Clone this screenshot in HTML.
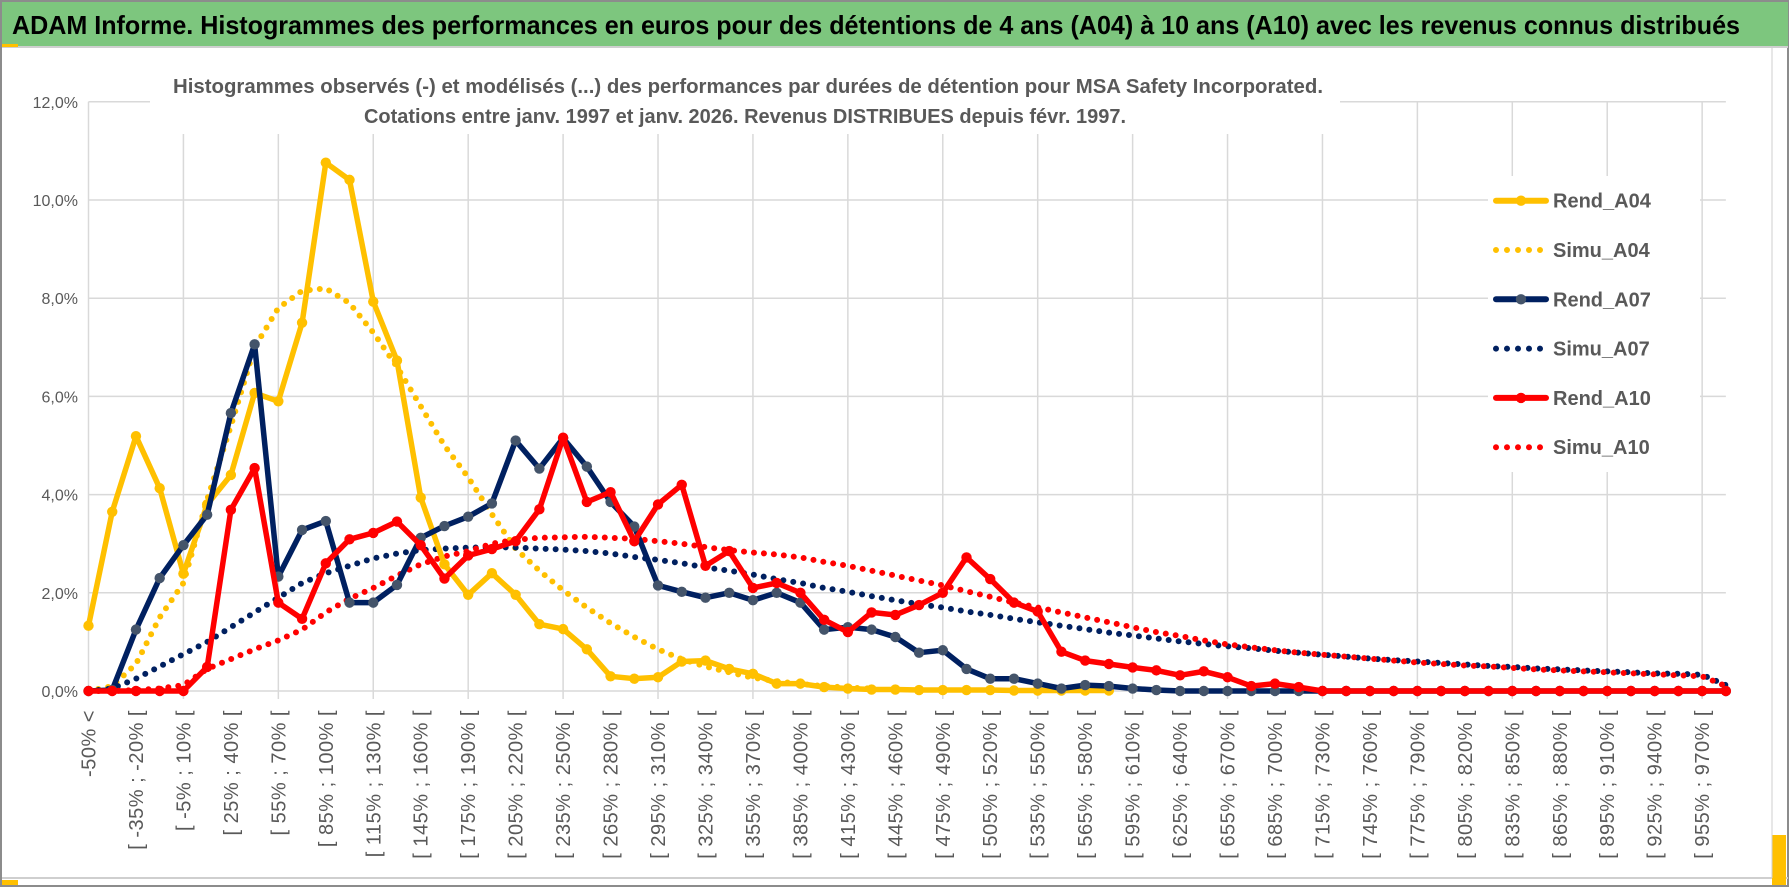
<!DOCTYPE html>
<html><head><meta charset="utf-8"><style>
html,body{margin:0;padding:0;background:#fff;}
svg{display:block;font-family:"Liberation Sans",sans-serif;}
</style></head><body>
<svg id="chart" width="1790" height="888" viewBox="0 0 1790 888">
<rect x="0" y="0" width="1790" height="888" fill="#fff"/>
<rect x="1" y="1" width="1787" height="885" fill="none" stroke="#8c8c8c" stroke-width="2"/>
<rect x="2" y="2" width="1786" height="44" fill="#7dc67e"/>
<line x1="2" y1="47" x2="1788" y2="47" stroke="#cfcfcf" stroke-width="2"/>
<rect x="2" y="44" width="16" height="3" fill="#ffc000"/>
<text x="12" y="34" font-size="26" font-weight="bold" fill="#000" textLength="1728" lengthAdjust="spacingAndGlyphs">ADAM Informe. Histogrammes des performances en euros pour des détentions de 4 ans (A04) à 10 ans (A10) avec les revenus connus distribués</text>
<line x1="2" y1="878" x2="1788" y2="878" stroke="#cfcfcf" stroke-width="2"/>
<rect x="2" y="880" width="16" height="5" fill="#ffc000"/>
<rect x="1772" y="835" width="14" height="50" fill="#ffc000"/>
<line x1="1772" y1="47" x2="1772" y2="878" stroke="#cfcfcf" stroke-width="1"/>
<g id="grid"></g>
<g id="yticks"></g>
<g id="xticks"></g>
<rect x="150" y="58" width="1190" height="76" fill="#fff"/>
<text x="748" y="93" font-size="20" font-weight="bold" fill="#595959" text-anchor="middle" textLength="1150" lengthAdjust="spacingAndGlyphs">Histogrammes observés (-) et modélisés (...) des performances par durées de détention pour MSA Safety Incorporated.</text>
<text x="745" y="123" font-size="20" font-weight="bold" fill="#595959" text-anchor="middle" textLength="762" lengthAdjust="spacingAndGlyphs">Cotations entre janv. 1997 et janv. 2026. Revenus DISTRIBUES depuis févr. 1997.</text>
<g id="series"></g>
<rect x="1488" y="176" width="212" height="296" fill="#fff"/>
<g id="legend"></g>
</svg>
<script>
const yTicks = [0,2,4,6,8,10,12];
const rendA04 = [1.33,3.65,5.19,4.13,2.39,3.8,4.4,6.07,5.9,7.5,10.76,10.41,7.93,6.73,3.94,2.58,1.96,2.4,1.96,1.36,1.26,0.85,0.3,0.25,0.28,0.6,0.62,0.45,0.35,0.15,0.15,0.08,0.05,0.03,0.03,0.02,0.02,0.02,0.02,0.01,0.01,0.01,0.01,0.01];
const simuA04 = [0,0.1,0.55,1.5,2.2,3.9,5.4,7.0,7.8,8.15,8.2,7.9,7.3,6.6,5.8,5.0,4.35,3.6,2.9,2.45,2.05,1.7,1.38,1.1,0.85,0.65,0.5,0.38,0.27,0.2,0.14,0.1,0.07,0.05];
const rendA07 = [0,0.02,1.25,2.3,2.97,3.59,5.66,7.06,2.33,3.28,3.46,1.8,1.8,2.16,3.12,3.36,3.55,3.82,5.1,4.53,5.15,4.57,3.85,3.35,2.15,2.02,1.9,2.0,1.85,2.0,1.8,1.25,1.3,1.25,1.1,0.78,0.83,0.45,0.25,0.25,0.15,0.05,0.12,0.1,0.05,0.02,0,0,0,0,0,0,0,0,0,0,0,0,0,0,0,0,0,0,0,0,0,0,0,0];
const simuA07 = [0,0.05,0.25,0.5,0.75,1.0,1.3,1.6,1.9,2.2,2.4,2.55,2.7,2.8,2.87,2.9,2.92,2.93,2.92,2.9,2.88,2.85,2.8,2.73,2.67,2.6,2.52,2.45,2.37,2.28,2.2,2.1,2.02,1.93,1.85,1.77,1.7,1.62,1.55,1.47,1.4,1.33,1.26,1.19,1.13,1.07,1.01,0.96,0.91,0.87,0.82,0.78,0.74,0.7,0.66,0.63,0.6,0.57,0.54,0.51,0.49,0.46,0.44,0.42,0.4,0.38,0.36,0.35,0.33,0.12];
const rendA10 = [0,0,0,0,0,0.49,3.69,4.54,1.8,1.47,2.6,3.09,3.22,3.45,2.97,2.29,2.76,2.89,3.05,3.7,5.16,3.85,4.05,3.05,3.8,4.2,2.55,2.85,2.1,2.2,2.0,1.45,1.2,1.6,1.55,1.75,2.0,2.72,2.28,1.8,1.62,0.8,0.62,0.55,0.48,0.42,0.32,0.4,0.28,0.1,0.15,0.08,0,0,0,0,0,0,0,0,0,0,0,0,0,0,0,0,0,0];
const simuA10 = [0,0,0.02,0.05,0.12,0.45,0.65,0.85,1.03,1.25,1.6,1.88,2.1,2.35,2.58,2.74,2.85,3.0,3.08,3.12,3.13,3.14,3.12,3.1,3.05,3.0,2.93,2.87,2.82,2.78,2.72,2.63,2.55,2.45,2.35,2.25,2.15,2.03,1.92,1.8,1.7,1.6,1.5,1.4,1.3,1.2,1.12,1.03,0.95,0.89,0.83,0.78,0.74,0.7,0.66,0.62,0.58,0.55,0.52,0.5,0.47,0.44,0.42,0.4,0.38,0.36,0.34,0.32,0.3,0.1];
const categoryCount = 70;
function categoryLabel(i){
  if(i===0) return '-50% <';
  const lo = -50 + 15*(i-1), hi = lo + 15;
  return '[ ' + lo + '% ; ' + hi + '% [';
}
const NS='http://www.w3.org/2000/svg';
const X0=88.5, STEP=23.73, Y0=691, PXPCT=49.1;
const xs = i => X0 + i*STEP;
const ys = v => Y0 - v*PXPCT;
function mk(tag, attrs, parent){const e=document.createElementNS(NS,tag);for(const k in attrs)e.setAttribute(k,attrs[k]);parent.appendChild(e);return e;}
const grid=document.getElementById('grid');
yTicks.forEach(t=>{
  const l=mk('line',{x1:xs(0),x2:xs(categoryCount-1),y1:ys(t),y2:ys(t),stroke:'#d9d9d9','stroke-width':1.5},grid);
  
  
  const tx=mk('text',{x:78,y:ys(t)+6,'font-size':16,fill:'#595959','text-anchor':'end'},document.getElementById('yticks'));
  tx.textContent=t.toFixed(1).replace('.',',')+'%';
  
  
});
for(let i=4;i<categoryCount;i+=4){
  const l=mk('line',{x1:xs(i),x2:xs(i),y1:ys(12),y2:Y0+8,stroke:'#d9d9d9','stroke-width':1.5},grid);
  
  
}
const ax=mk('line',{x1:xs(0),x2:xs(0),y1:ys(12),y2:Y0,stroke:'#d9d9d9','stroke-width':1.5},grid);


for(let i=0;i<categoryCount;i+=2){
  const x=xs(i)+7, y=710;
  const tx=mk('text',{x:x,y:y,'font-size':20,fill:'#595959','text-anchor':'end','letter-spacing':'0.5',transform:`rotate(-90 ${x} ${y})`},document.getElementById('xticks'));
  tx.textContent=categoryLabel(i);
  
  
}
const series=document.getElementById('series');
function pts(arr){return arr.map((v,i)=>xs(i).toFixed(1)+','+ys(v).toFixed(1)).join(' ');}
function dotted(arr,color,name){
  const p=mk('polyline',{points:pts(arr),fill:'none',stroke:color,'stroke-width':6,'stroke-linecap':'round','stroke-dasharray':'0 10'},series);
  
  
}
function solid(arr,color,mcolor,name){
  const g=mk('g',{},series);
  
  
  mk('polyline',{points:pts(arr),fill:'none',stroke:color,'stroke-width':5.5,'stroke-linejoin':'round'},g);
  arr.forEach((v,i)=>{
    const c=mk('circle',{cx:xs(i),cy:ys(v),r:5.2,fill:mcolor},g);
    
    
  });
}
dotted(simuA04,'#ffc000','simu-a04-line');
dotted(simuA07,'#002060','simu-a07-line');
dotted(simuA10,'#ff0000','simu-a10-line');
solid(rendA04,'#ffc000','#ffc000','rend-a04-line');
solid(rendA07,'#002060','#44546a','rend-a07-line');
solid(rendA10,'#ff0000','#ff0000','rend-a10-line');
const legendNames=['Rend_A04','Simu_A04','Rend_A07','Simu_A07','Rend_A10','Simu_A10'];
const legendColors=['#ffc000','#ffc000','#002060','#002060','#ff0000','#ff0000'];
const lg=document.getElementById('legend');
legendNames.forEach((n,k)=>{
  const y=200.7+k*49.3;
  const g=mk('g',{},lg);
  
  
  if(k%2===0){
    mk('line',{x1:1496,x2:1546,y1:y,y2:y,stroke:legendColors[k],'stroke-width':6,'stroke-linecap':'round'},g);
    mk('circle',{cx:1521,cy:y,r:5.2,fill:k===2?'#44546a':legendColors[k]},g);
  } else {
    mk('line',{x1:1496,x2:1546,y1:y,y2:y,stroke:legendColors[k],'stroke-width':6,'stroke-linecap':'round','stroke-dasharray':'0 11'},g);
  }
  const t=mk('text',{x:1553,y:y+7,'font-size':20,'font-weight':'bold',fill:'#595959'},g);
  t.textContent=n;
});
</script>
</body></html>
